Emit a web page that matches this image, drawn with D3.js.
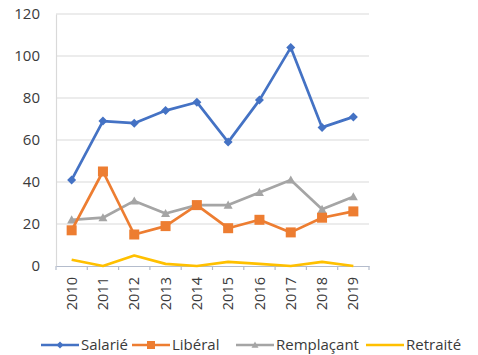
<!DOCTYPE html>
<html><head><meta charset="utf-8">
<script src="https://cdn.jsdelivr.net/npm/d3@7"></script>
<style>body{margin:0;background:#fff;} svg{display:block;}</style>
</head><body><svg id="c" width="478" height="355"></svg>
<script>
const years = ["2010","2011","2012","2013","2014","2015","2016","2017","2018","2019"];
const salarie = [41, 69, 68, 74, 78, 59, 79, 104, 66, 71];
const liberal = [17, 45, 15, 19, 29, 18, 22, 16, 23, 26];
const remplacant = [22, 23, 31, 25, 29, 29, 35, 41, 27, 33];
const retraite = [3, 0, 5, 1, 0, 2, 1, 0, 2, 0];
const yTicks = [0, 20, 40, 60, 80, 100, 120];
const seriesNames = ["Salarié", "Libéral", "Remplaçant", "Retraité"];

const series = [
  {name: seriesNames[0], values: salarie, color: "#4472C4", marker: "diamond"},
  {name: seriesNames[1], values: liberal, color: "#ED7D31", marker: "square"},
  {name: seriesNames[2], values: remplacant, color: "#A5A5A5", marker: "triangle"},
  {name: seriesNames[3], values: retraite, color: "#FFC000", marker: null}
];

const svg = d3.select("#c");
const font = "'Open Sans', 'Liberation Sans', sans-serif";
const textColor = "#3a3a3a";

const x = d3.scaleBand().domain(years).range([56, 369]);
const y = d3.scaleLinear().domain([0, 120]).range([266, 14]);

// gridlines
svg.append("g").selectAll("line").data(yTicks.filter(d => d > 0)).join("line")
  .attr("x1", 56).attr("x2", 369)
  .attr("y1", d => y(d)).attr("y2", d => y(d))
  .attr("stroke", "#d9d9d9").attr("stroke-width", 1.2);

// y axis
const yAxis = svg.append("g").attr("transform", "translate(56,0)")
  .call(d3.axisLeft(y).tickValues(yTicks).tickSize(0).tickPadding(16));
yAxis.select(".domain").attr("stroke", "#d9d9d9").attr("stroke-width", 1.2);
yAxis.selectAll("text").attr("font-family", font).attr("font-size", 15).attr("fill", textColor);

// x axis
const xAxis = svg.append("g").attr("transform", `translate(0,${y(0)})`)
  .call(d3.axisBottom(x).tickSize(0).tickPadding(10));
xAxis.select(".domain").attr("stroke", "#b4bccc").attr("stroke-width", 1.2);
xAxis.selectAll("text")
  .attr("font-family", font).attr("font-size", 14.5).attr("fill", textColor)
  .attr("transform", "rotate(-90)")
  .attr("text-anchor", "end").attr("dy", "0.35em")
  .attr("x", -11).attr("y", 0);
// boundary ticks
svg.append("g").selectAll("line").data(years.concat(["end"])).join("line")
  .attr("x1", (d, i) => 56 + i * x.step()).attr("x2", (d, i) => 56 + i * x.step())
  .attr("y1", y(0)).attr("y2", y(0) + 4)
  .attr("stroke", "#b4bccc").attr("stroke-width", 1.2);

const line = d3.line().x((d, i) => x(years[i]) + x.bandwidth() / 2).y(d => y(d));

function drawMarker(g, type, cx, cy, color, s) {
  if (type === "diamond") {
    g.append("path").attr("d", `M${cx},${cy - s}L${cx + s},${cy}L${cx},${cy + s}L${cx - s},${cy}Z`).attr("fill", color);
  } else if (type === "square") {
    g.append("rect").attr("x", cx - s).attr("y", cy - s).attr("width", 2 * s).attr("height", 2 * s).attr("fill", color);
  } else if (type === "triangle") {
    g.append("path").attr("d", `M${cx},${cy - s}L${cx + s},${cy + s * 0.8}L${cx - s},${cy + s * 0.8}Z`).attr("fill", color);
  }
}

[...series].reverse().forEach(s => {
  const g = svg.append("g");
  g.append("path").datum(s.values).attr("d", line)
    .attr("fill", "none").attr("stroke", s.color).attr("stroke-width", 2.7).attr("stroke-linejoin", "round");
  if (s.marker) {
    s.values.forEach((v, i) => drawMarker(g, s.marker, x(years[i]) + x.bandwidth() / 2, y(v), s.color, s.marker === "square" ? 5 : 4.5));
  }
});

// legend
const legendItems = [
  {lx: 41, tx: 81},
  {lx: 132, tx: 172},
  {lx: 236, tx: 276},
  {lx: 366, tx: 406}
];
const ly = 345;
series.forEach((s, i) => {
  const g = svg.append("g");
  const it = legendItems[i];
  g.append("line").attr("x1", it.lx).attr("x2", it.lx + 38).attr("y1", ly).attr("y2", ly)
    .attr("stroke", s.color).attr("stroke-width", 2.7);
  if (s.marker) drawMarker(g, s.marker, it.lx + 19, ly, s.color, s.marker === "square" ? 4 : 3.5);
  g.append("text").attr("x", it.tx).attr("y", ly).attr("dy", "0.35em")
    .attr("font-family", font).attr("font-size", 15).attr("fill", textColor).text(s.name);
});
</script></body></html>
